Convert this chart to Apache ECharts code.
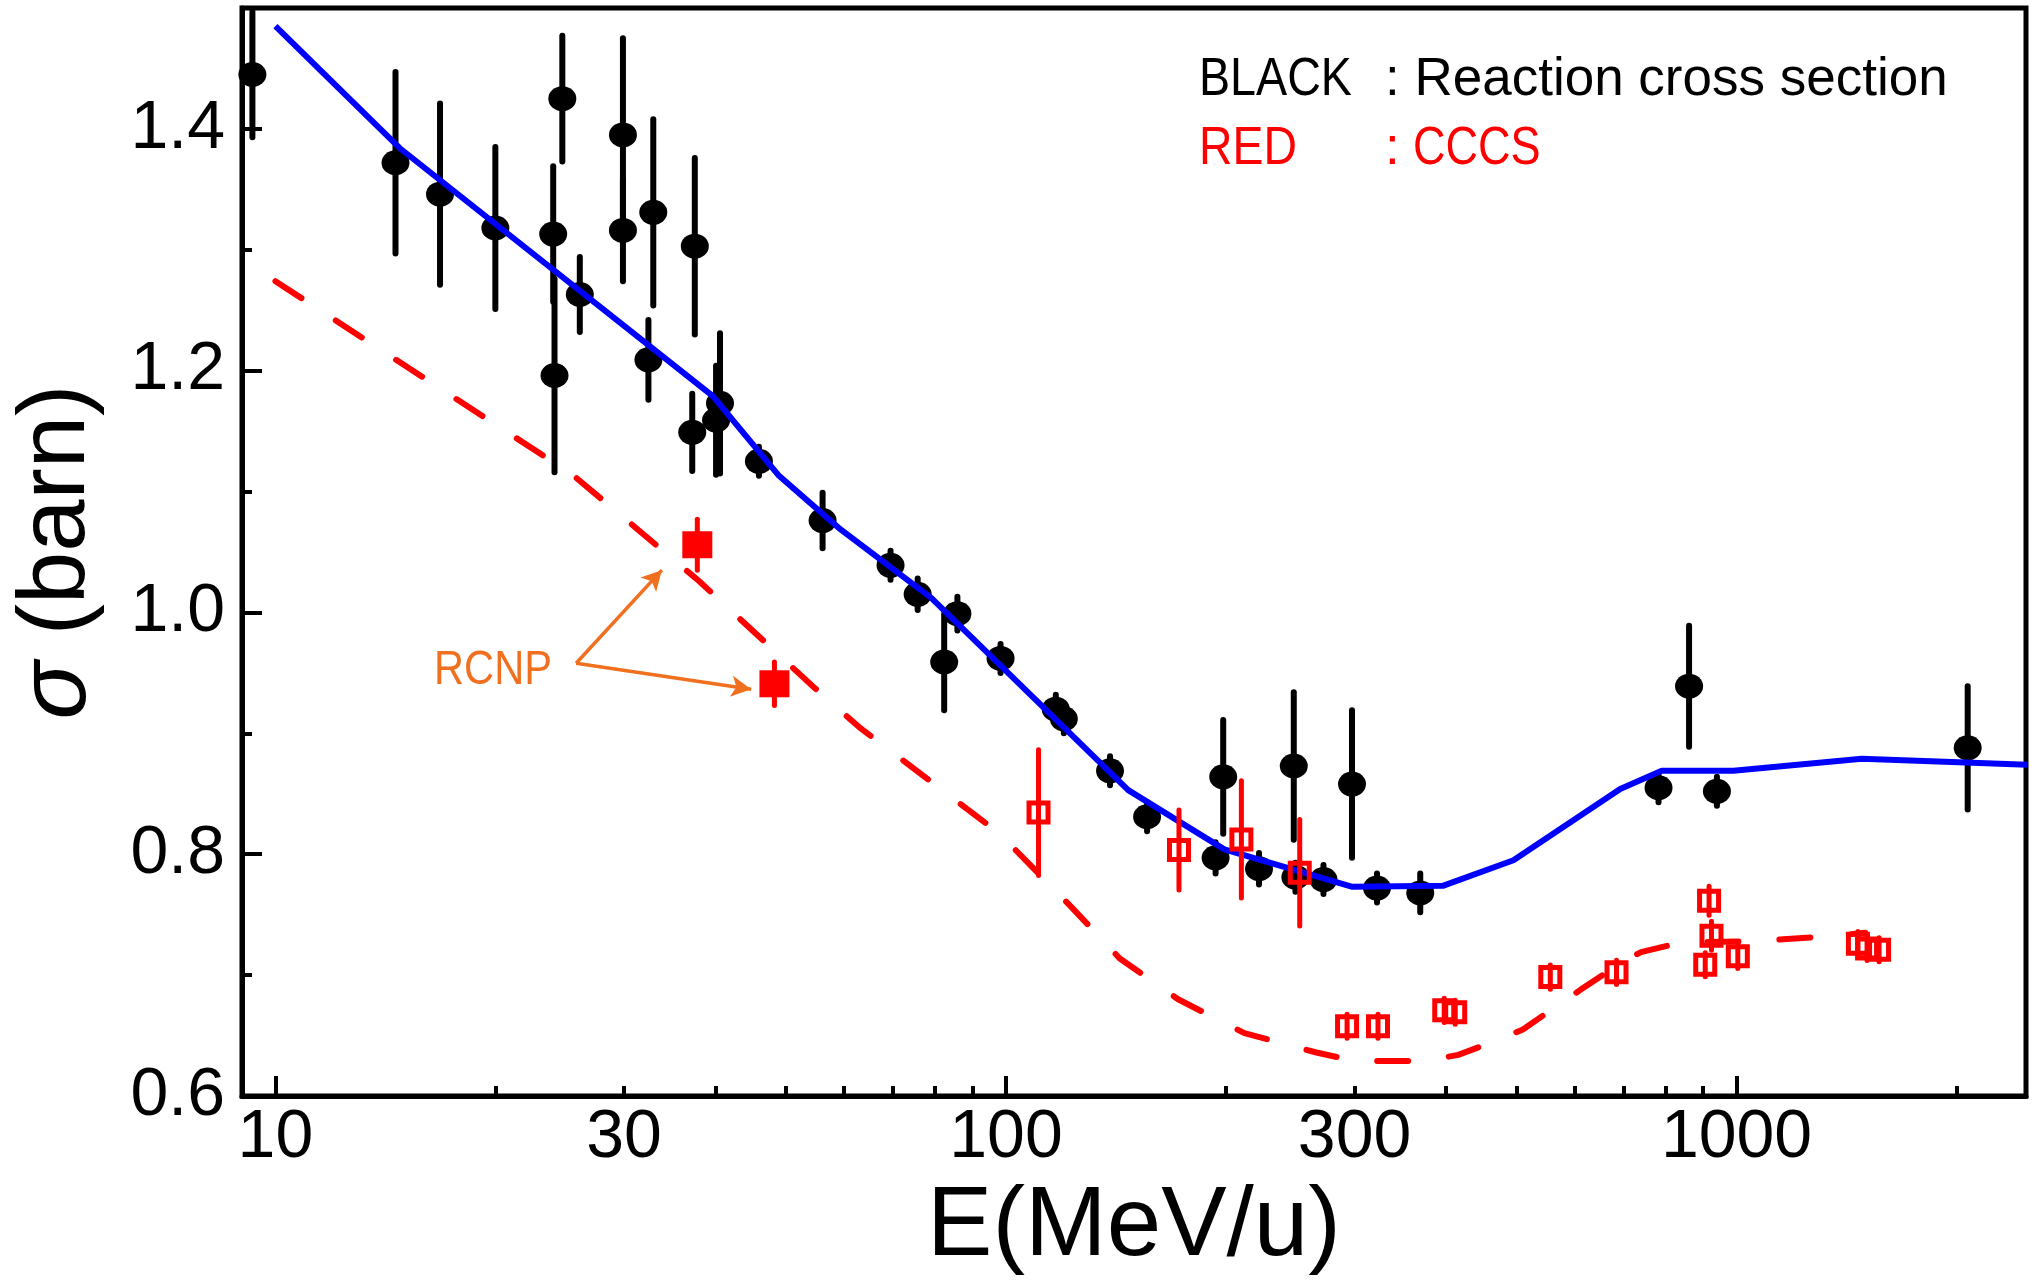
<!DOCTYPE html>
<html>
<head>
<meta charset="utf-8">
<script src="https://cdn.jsdelivr.net/npm/echarts@6/dist/echarts.min.js"></script>
<style>
html,body{margin:0;padding:0;background:#fff;}
#chart{width:2036px;height:1282px;}
</style>
</head>
<body>
<div id="chart"></div>
<script>
// ---- Data (E in MeV/u, sigma in barn) ----
const blackE     = [9.3, 14.6, 16.8, 20.0, 24.0, 24.1, 24.7, 26.1, 29.9, 29.9, 32.9, 32.4, 37.5, 37.2, 40.6, 40.1, 45.9, 56.1, 69.5, 75.7, 82.3, 85.8, 98.3, 117, 120, 138.8, 156, 193.6, 198.3, 222, 247.7, 249, 272, 297.6, 322, 369, 782, 861, 940, 2072];
const blackSigma = [1.445, 1.372, 1.346, 1.318, 1.313, 1.196, 1.425, 1.263, 1.395, 1.316, 1.331, 1.209, 1.303, 1.149, 1.173, 1.159, 1.125, 1.076, 1.039, 1.015, 0.959, 0.999, 0.962, 0.920, 0.912, 0.869, 0.831, 0.797, 0.864, 0.788, 0.873, 0.781, 0.779, 0.858, 0.772, 0.768, 0.855, 0.939, 0.852, 0.888];
const blackErr   = [0.052, 0.075, 0.075, 0.067, 0.056, 0.080, 0.052, 0.031, 0.080, 0.042, 0.077, 0.033, 0.073, 0.032, 0.058, 0.045, 0.012, 0.023, 0.012, 0.013, 0.040, 0.014, 0.012, 0.012, 0.012, 0.012, 0.012, 0.013, 0.047, 0.013, 0.061, 0.012, 0.012, 0.061, 0.012, 0.016, 0.012, 0.050, 0.012, 0.051];

const rcnpE     = [37.8, 48.2];
const rcnpSigma = [1.056, 0.941];
const rcnpErr   = [0.021, 0.018];

const cccsE     = [110.8, 172.5, 210, 252.4, 293, 323, 398, 412, 556, 685, 906, 917, 924, 1004, 1466, 1509, 1567];
const cccsSigma = [0.8345, 0.8035, 0.8122, 0.7847, 0.6577, 0.6577, 0.6709, 0.6693, 0.6984, 0.7023, 0.7086, 0.7616, 0.7325, 0.7155, 0.726, 0.722, 0.721];
const cccsErr   = [0.052, 0.033, 0.0485, 0.044, 0.010, 0.010, 0.010, 0.010, 0.010, 0.010, 0.010, 0.012, 0.012, 0.010, 0.010, 0.010, 0.010];

const reactionCurveE     = [10, 14.8, 39.7, 48.9, 59, 79, 147, 199, 298, 397, 495, 693, 790, 990, 1484, 2500];
const reactionCurveSigma = [1.485, 1.384, 1.179, 1.113, 1.070, 1.012, 0.853, 0.804, 0.773, 0.774, 0.795, 0.854, 0.869, 0.869, 0.879, 0.874];

const cccsCurveE     = [10, 25.5, 38, 54.6, 63, 98, 123, 143, 172, 212, 266, 300, 375, 416, 465, 510, 563, 612, 694, 740, 840, 1050, 1330, 1500];
const cccsCurveSigma = [1.274, 1.114, 1.026, 0.938, 0.905, 0.817, 0.756, 0.714, 0.680, 0.652, 0.636, 0.629, 0.629, 0.634, 0.645, 0.655, 0.673, 0.688, 0.710, 0.719, 0.727, 0.728, 0.732, 0.735];

const xTickLabels  = [10, 30, 100, 300, 1000];
const xMajorTicks  = [10, 100, 1000];
const xMinorTicks  = [20, 30, 40, 50, 60, 70, 80, 90, 200, 300, 400, 500, 600, 700, 800, 900, 2000];
const yTickLabels  = [0.6, 0.8, 1.0, 1.2, 1.4];
const yMinorTicks  = [0.7, 0.9, 1.1, 1.3];

// annotation arrows (data coordinates)
const rcnpArrowFrom = [25.8, 0.958];
const rcnpArrowTo   = [[33.8, 1.035], [44.8, 0.9365]];

// ---- Build ----
const F = "'Liberation Sans', Arial, sans-serif";
const zip3 = (a, b, c) => a.map((v, i) => [v, b[i], c[i]]);
const zip2 = (a, b) => a.map((v, i) => [v, b[i]]);

function errRender(color, width) {
  return function (params, api) {
    const x = api.value(0), y = api.value(1), e = api.value(2);
    const p1 = api.coord([x, y + e]);
    const p2 = api.coord([x, y - e]);
    return {
      type: 'line',
      shape: { x1: p1[0], y1: p1[1], x2: p2[0], y2: p2[1] },
      style: { stroke: color, lineWidth: width, lineCap: 'round' }
    };
  };
}

const chart = echarts.init(document.getElementById('chart'), null, { renderer: 'canvas' });

const X_MIN = 9, X_MAX = 2490;

const option = {
  animation: false,
  backgroundColor: '#fff',
  grid: { left: 242, right: 10, top: 8, bottom: 182, show: true, borderColor: '#000', borderWidth: 5, backgroundColor: 'transparent' },
  xAxis: [
    {
      type: 'log', logBase: 10, min: X_MIN, max: X_MAX,
      name: 'E(MeV/u)', nameLocation: 'middle', nameGap: 83,
      nameTextStyle: { fontSize: 98, fontFamily: F, color: '#000' },
      axisLine: { show: true, lineStyle: { color: '#000', width: 5 } },
      axisTick: { show: true, inside: true, length: 20, lineStyle: { color: '#000', width: 4 }, customValues: xMajorTicks },
      axisLabel: { show: true, customValues: xTickLabels, fontSize: 68, fontFamily: F, color: '#000', margin: 8,
                   formatter: v => String(Math.round(v)) },
      splitLine: { show: false }, minorTick: { show: false }
    },
    {
      type: 'log', logBase: 10, min: X_MIN, max: X_MAX, position: 'bottom',
      axisLine: { show: false },
      axisTick: { show: true, inside: true, length: 10, lineStyle: { color: '#000', width: 4 }, customValues: xMinorTicks },
      axisLabel: { show: false },
      splitLine: { show: false }
    }
  ],
  yAxis: [
    {
      type: 'value', min: 0.6, max: 1.5,
      name: '{s|σ} (barn)', nameLocation: 'middle', nameGap: 136,
      nameTextStyle: { fontSize: 94, fontFamily: F, color: '#000',
                       rich: { s: { fontSize: 96, fontFamily: F, fontStyle: 'italic', color: '#000' } } },
      axisLine: { show: true, lineStyle: { color: '#000', width: 5 } },
      axisTick: { show: true, inside: true, length: 20, lineStyle: { color: '#000', width: 4 }, customValues: yTickLabels },
      axisLabel: { show: true, customValues: yTickLabels, fontSize: 68, fontFamily: F, color: '#000', margin: 17,
                   formatter: v => Number(v).toFixed(1) },
      splitLine: { show: false }
    },
    {
      type: 'value', min: 0.6, max: 1.5, position: 'left',
      axisLine: { show: false },
      axisTick: { show: true, inside: true, length: 10, lineStyle: { color: '#000', width: 4 }, customValues: yMinorTicks },
      axisLabel: { show: false },
      splitLine: { show: false }
    }
  ],
  series: [
    {
      name: 'blackErr', type: 'custom', xAxisIndex: 0, yAxisIndex: 0, z: 2,
      renderItem: errRender('#000', 6),
      encode: { x: 0, y: 1 },
      data: zip3(blackE, blackSigma, blackErr), silent: true
    },
    {
      name: 'black', type: 'scatter', xAxisIndex: 0, yAxisIndex: 0, z: 3,
      symbol: 'circle', symbolSize: [28, 25],
      itemStyle: { color: '#000', opacity: 1 },
      data: zip2(blackE, blackSigma), silent: true
    },
    {
      name: 'reactionCurve', type: 'line', xAxisIndex: 0, yAxisIndex: 0, z: 4,
      symbol: 'none', smooth: false,
      lineStyle: { color: '#0000ff', width: 6, join: 'round', opacity: 1 },
      data: zip2(reactionCurveE, reactionCurveSigma), silent: true
    },
    {
      name: 'cccsCurve', type: 'line', xAxisIndex: 0, yAxisIndex: 0, z: 4,
      symbol: 'none', smooth: false,
      lineStyle: { color: '#ff0000', width: 6, type: [31, 41], cap: 'round', opacity: 1 },
      data: zip2(cccsCurveE, cccsCurveSigma), silent: true,
      markLine: {
        silent: true, symbol: ['none', 'arrow'], symbolSize: [16, 20], precision: 4,
        label: { show: false },
        lineStyle: { color: '#f07020', width: 3.5, type: 'solid', opacity: 1 },
        emphasis: { disabled: true },
        data: rcnpArrowTo.map(t => [{ coord: rcnpArrowFrom }, { coord: t }])
      }
    },
    {
      name: 'cccsErr', type: 'custom', xAxisIndex: 0, yAxisIndex: 0, z: 5,
      renderItem: errRender('#ff0000', 5),
      encode: { x: 0, y: 1 },
      data: zip3(cccsE, cccsSigma, cccsErr), silent: true
    },
    {
      name: 'cccs', type: 'scatter', xAxisIndex: 0, yAxisIndex: 0, z: 6,
      symbol: 'rect', symbolSize: 19,
      itemStyle: { color: 'rgba(0,0,0,0)', borderColor: '#ff0000', borderWidth: 5, opacity: 1 },
      data: zip2(cccsE, cccsSigma), silent: true
    },
    {
      name: 'rcnpErr', type: 'custom', xAxisIndex: 0, yAxisIndex: 0, z: 5,
      renderItem: errRender('#ff0000', 5),
      encode: { x: 0, y: 1 },
      data: zip3(rcnpE, rcnpSigma, rcnpErr), silent: true
    },
    {
      name: 'rcnp', type: 'scatter', xAxisIndex: 0, yAxisIndex: 0, z: 6,
      symbol: 'rect', symbolSize: [30, 27],
      itemStyle: { color: '#ff0000', opacity: 1 },
      data: zip2(rcnpE, rcnpSigma), silent: true
    }
  ],
  graphic: [
    { type: 'text', x: 1199, y: 80, scaleX: 0.88, silent: true,
      style: { text: 'BLACK', fontSize: 53, fontFamily: F, fill: '#000', verticalAlign: 'middle', align: 'left' } },
    { type: 'text', x: 1385, y: 80, silent: true,
      style: { text: ': Reaction cross section', fontSize: 53, fontFamily: F, fill: '#000', verticalAlign: 'middle', align: 'left' } },
    { type: 'text', x: 1199, y: 149, scaleX: 0.875, silent: true,
      style: { text: 'RED', fontSize: 53, fontFamily: F, fill: '#ff0000', verticalAlign: 'middle', align: 'left' } },
    { type: 'text', x: 1385, y: 149, silent: true,
      style: { text: ':', fontSize: 53, fontFamily: F, fill: '#ff0000', verticalAlign: 'middle', align: 'left' } },
    { type: 'text', x: 1413, y: 149, scaleX: 0.85, silent: true,
      style: { text: 'CCCS', fontSize: 53, fontFamily: F, fill: '#ff0000', verticalAlign: 'middle', align: 'left' } },
    { type: 'text', x: 434, y: 670, scaleX: 0.85, silent: true,
      style: { text: 'RCNP', fontSize: 49, fontFamily: F, fill: '#f07020', verticalAlign: 'middle', align: 'left' } }
  ]
};

chart.setOption(option);
</script>
</body>
</html>
